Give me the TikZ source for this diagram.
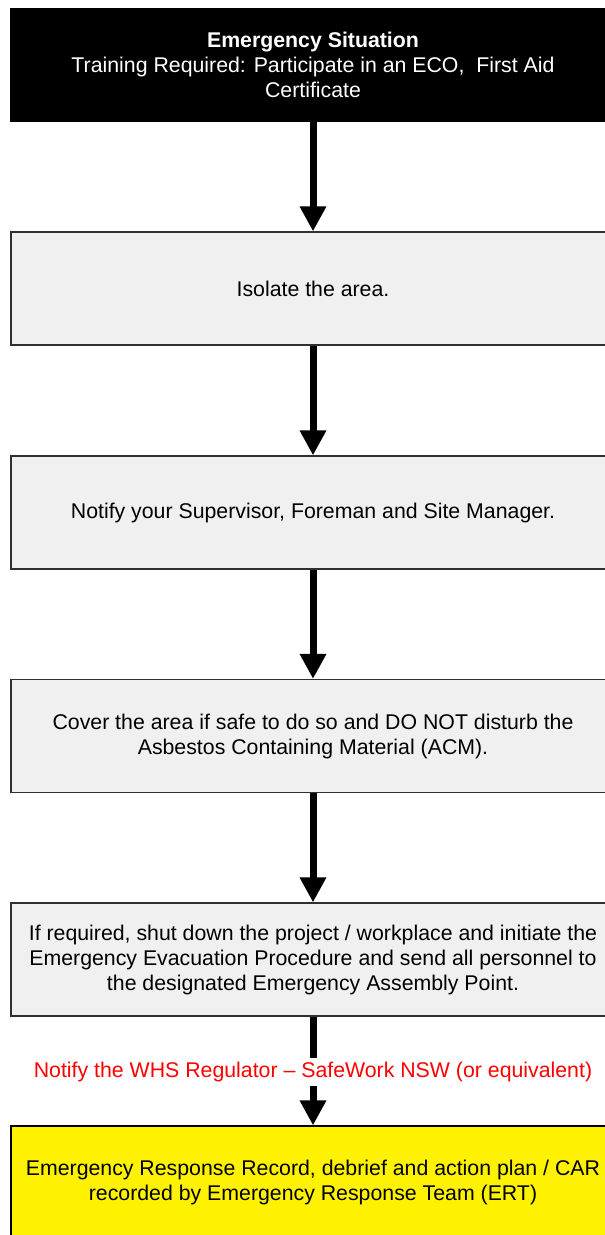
\documentclass[tikz,border=0pt]{standalone}
\usepackage{fontspec}
\setmainfont{Liberation Sans}
\usetikzlibrary{arrows.meta}
\definecolor{boxgray}{HTML}{F0F0F0}
\definecolor{edgegray}{HTML}{303030}
\definecolor{alertred}{HTML}{FF0000}
\begin{document}
\begin{tikzpicture}[x=1bp,y=-1bp,
  every node/.style={font=\fontsize{21.3bp}{25bp}\selectfont, align=center, inner sep=0pt},
  stepbox/.style={draw=edgegray, line width=1.2bp, fill=boxgray, text=black,
                  minimum width=604bp, minimum height=113bp},
  headbox/.style={stepbox, draw=black, fill=black, text=white},
  endbox/.style={stepbox, draw=black, fill=yellow},
  flow/.style={line width=7bp, draw=black,
               -{Triangle[width=25bp,length=25bp]}},
  notelabel/.style={fill=white, text=alertred, inner xsep=3bp, inner ysep=4bp}
]
\useasboundingbox (0,0) rectangle (605,1235);
\clip (0,0) rectangle (605,1235);
\fill[white] (0,0) rectangle (605,1235);

% process boxes
\node[headbox] (b0) at (313,65)
  {\textbf{Emergency Situation}\\
   Training Required: Participate in an ECO,\ \ First Aid\\
   Certificate};
\node[stepbox] (b1) at (313,288.5) {Isolate the area.};
\node[stepbox] (b2) at (313,512.5) {Notify your Supervisor, Foreman and Site Manager.};
\node[stepbox] (b3) at (313,736)
  {Cover the area if safe to do so and DO NOT disturb the\\
   Asbestos Containing Material (ACM).};
\node[stepbox] (b4) at (313,959.5)
  {If required, shut down the project / workplace and initiate the\\
   Emergency Evacuation Procedure and send all personnel to\\
   the designated Emergency Assembly Point.};
\node[endbox] (b5) at (313,1182.5)
  {Emergency Response Record, debrief and action plan / CAR\\
   recorded by Emergency Response Team (ERT)};

% connectors
\draw[flow] (b0.south) -- (b1.north);
\draw[flow] (b1.south) -- (b2.north);
\draw[flow] (b2.south) -- (b3.north);
\draw[flow] (b3.south) -- (b4.north);
\draw[flow] (b4.south) -- (b5.north);

% regulator notification on the last connector
\node[notelabel] (note) at (313,1072)
  {Notify the WHS Regulator -- SafeWork NSW (or equivalent)};
\end{tikzpicture}
\end{document}
